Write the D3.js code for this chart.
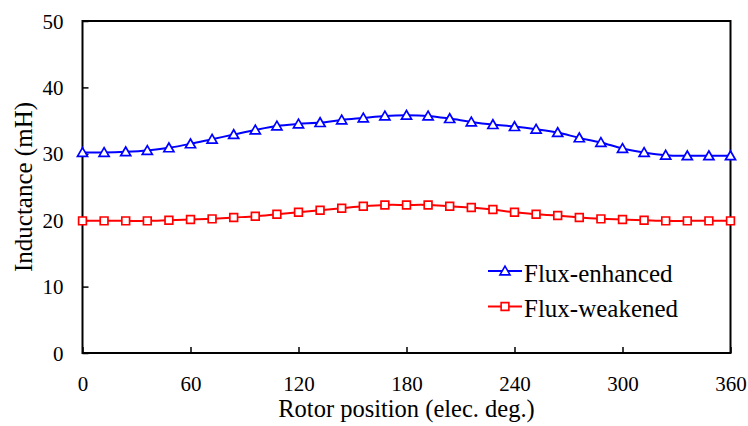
<!DOCTYPE html>
<html><head><meta charset="utf-8">
<script src="https://cdn.jsdelivr.net/npm/d3@7"></script>
<style>body{margin:0;background:#fff}svg{display:block}</style>
</head><body>
<script>
const positions = [0,12,24,36,48,60,72,84,96,108,120,132,144,156,168,180,192,204,216,228,240,252,264,276,288,300,312,324,336,348,360];
const fluxEnhanced = [30.2,30.2,30.3,30.5,30.9,31.5,32.2,32.9,33.6,34.2,34.5,34.7,35.1,35.4,35.7,35.8,35.7,35.3,34.8,34.4,34.1,33.7,33.2,32.4,31.7,30.8,30.2,29.8,29.7,29.7,29.7];
const fluxWeakened = [19.9,19.9,19.9,19.9,20.0,20.1,20.2,20.4,20.6,20.9,21.2,21.5,21.8,22.1,22.3,22.3,22.3,22.1,21.9,21.6,21.2,20.9,20.7,20.4,20.2,20.1,20.0,19.9,19.9,19.9,19.9];
const xTicks = [0,60,120,180,240,300,360];
const yTicks = [0,10,20,30,40,50];
const seriesNames = ["Flux-enhanced","Flux-weakened"];

const W=748,H=426;
const m={l:82.5,r:730.5,t:21,b:353};
const FONT="'Liberation Serif','Times New Roman',serif";
const svg=d3.select("body").append("svg").attr("width",W).attr("height",H)
  .style("font-family",FONT);
const x=d3.scaleLinear().domain([0,360]).range([m.l,m.r]);
const y=d3.scaleLinear().domain([0,50]).range([m.b,m.t]);

// frame
svg.append("rect").attr("x",m.l).attr("y",m.t).attr("width",m.r-m.l).attr("height",m.b-m.t)
  .attr("fill","none").attr("stroke","#000").attr("stroke-width",2);

// axes
const xa=svg.append("g").attr("transform",`translate(0,${m.b})`)
  .call(d3.axisBottom(x).tickValues(xTicks).tickSizeInner(-6).tickSizeOuter(0));
const ya=svg.append("g").attr("transform",`translate(${m.l},0)`)
  .call(d3.axisLeft(y).tickValues(yTicks).tickSizeInner(-6).tickSizeOuter(0));
[xa,ya].forEach(g=>{
  g.attr("font-family",null).attr("font-size",null);
  g.select(".domain").remove();
  g.selectAll(".tick line").attr("stroke","#000").attr("stroke-width",1.5);
  g.selectAll(".tick text").attr("fill","#000").style("font-size","21px").style("font-family",FONT);
});
xa.selectAll(".tick text").attr("dy",null).attr("y",37.5);
ya.selectAll(".tick text").attr("x",-19).attr("dy","0.34em");

// titles
svg.append("text").attr("x",(m.l+m.r)/2).attr("y",417).attr("text-anchor","middle")
  .style("font-size","24.5px").text("Rotor position (elec. deg.)");
svg.append("text").attr("transform",`translate(32,${(m.t+m.b)/2}) rotate(-90)`).attr("text-anchor","middle")
  .style("font-size","25px").text("Inductance (mH)");

const line=d3.line().x(d=>x(d[0])).y(d=>y(d[1])).curve(d3.curveCatmullRom.alpha(0.5));
const tri=d3.symbol().type(d3.symbolTriangle).size(44);
const sq=d3.symbol().type(d3.symbolSquare).size(60);
const series=[
  {name:seriesNames[0],vals:fluxEnhanced,color:"#0000ff",sym:tri},
  {name:seriesNames[1],vals:fluxWeakened,color:"#ff0000",sym:sq}
];
series.forEach(s=>{
  const pts=positions.map((p,i)=>[p,s.vals[i]]);
  svg.append("path").attr("d",line(pts)).attr("fill","none").attr("stroke",s.color).attr("stroke-width",2);
  svg.selectAll(null).data(pts).enter().append("path").attr("d",s.sym())
    .attr("transform",d=>`translate(${x(d[0])},${y(d[1])+(s.sym===tri?1:0)})`)
    .attr("fill","#fff").attr("stroke",s.color).attr("stroke-width",1.7);
});

// legend
const lg=svg.append("g");
series.forEach((s,i)=>{
  const ly=271+i*35.5;
  lg.append("line").attr("x1",488).attr("x2",522).attr("y1",ly).attr("y2",ly).attr("stroke",s.color).attr("stroke-width",2);
  lg.append("path").attr("d",s.sym()).attr("transform",`translate(505,${ly+(s.sym===tri?1:0)})`)
    .attr("fill","#fff").attr("stroke",s.color).attr("stroke-width",1.6);
  lg.append("text").attr("x",524).attr("y",ly+10.5).style("font-size","25px").text(s.name);
});
</script>
</body></html>
